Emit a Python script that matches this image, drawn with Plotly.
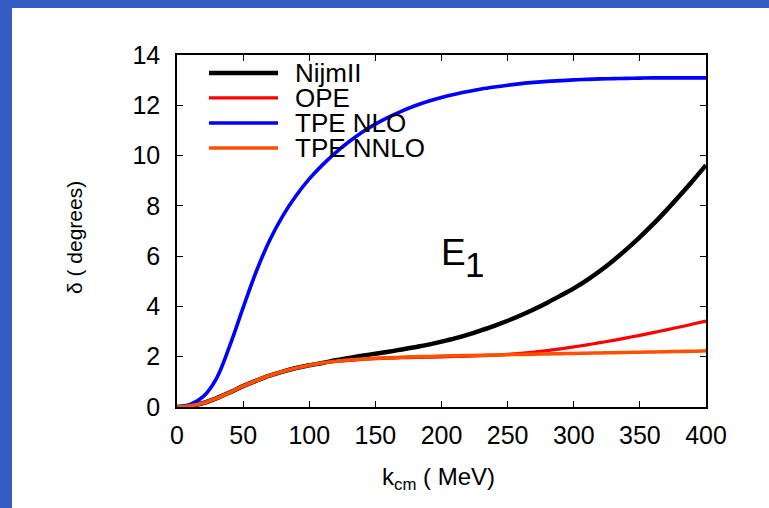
import plotly.graph_objects as go

# E1 mixing parameter vs. centre-of-mass momentum, sampled every 10 MeV
k_mev = list(range(0, 410, 10))

# shared low-momentum behaviour (0-110 MeV)
d_low = [0, 0.05, 0.16, 0.35, 0.58, 0.83, 1.05, 1.25, 1.41, 1.55, 1.66, 1.75]

d_nijm = d_low + [1.86, 1.95, 2.04, 2.12, 2.20, 2.29, 2.38, 2.48, 2.60, 2.73,
                  2.88, 3.05, 3.23, 3.43, 3.65, 3.89, 4.15, 4.43, 4.72, 5.05,
                  5.42, 5.83, 6.28, 6.76, 7.27, 7.82, 8.40, 9.00, 9.62]

d_ope = d_low + [1.81, 1.85, 1.89, 1.92, 1.94, 1.96, 1.97, 1.98, 1.99, 2.01,
                 2.02, 2.04, 2.06, 2.09, 2.13, 2.18, 2.24, 2.31, 2.39, 2.47,
                 2.56, 2.65, 2.75, 2.85, 2.96, 3.07, 3.18, 3.30, 3.42]

d_nlo = [0, 0.10, 0.42, 1.15, 2.45, 3.95, 5.40, 6.62, 7.60, 8.40, 9.07,
         9.63, 10.12, 10.55, 10.93, 11.25, 11.53, 11.77, 11.98, 12.16, 12.31,
         12.44, 12.55, 12.65, 12.73, 12.80, 12.86, 12.91, 12.95, 12.98, 13.01,
         13.03, 13.05, 13.06, 13.07, 13.08, 13.09, 13.09, 13.09, 13.09, 13.09]

d_nnlo = d_low + [1.82, 1.87, 1.91, 1.94, 1.96, 1.98, 2.00, 2.01, 2.03, 2.04,
                  2.05, 2.06, 2.07, 2.08, 2.09, 2.10, 2.11, 2.12, 2.13, 2.14,
                  2.15, 2.16, 2.17, 2.18, 2.19, 2.20, 2.21, 2.22, 2.24]

series_names = ["NijmII", "OPE", "TPE NLO", "TPE NNLO"]
series_d = [d_nijm, d_ope, d_nlo, d_nnlo]
series_colors = ["#000000", "#ff0000", "#0000ff", "#ff5000"]
series_widths = [4.5, 3.2, 3.6, 3.6]

x_ticks = [0, 50, 100, 150, 200, 250, 300, 350, 400]
y_ticks = [0, 2, 4, 6, 8, 10, 12, 14]

FONT = "Liberation Sans, Arial, Helvetica, sans-serif"
BORDER = "#355ec5"

fig = go.Figure()
for name, d, c, w in zip(series_names, series_d, series_colors, series_widths):
    fig.add_trace(go.Scatter(x=k_mev, y=d, mode="lines", name=name,
                             line=dict(color=c, width=w, shape="spline", smoothing=1.0),
                             showlegend=False))

# Hand-drawn key with long line samples
key_y = [0.949, 0.878, 0.807, 0.736]
for name, c, w, ky in zip(series_names, series_colors, series_widths, key_y):
    fig.add_shape(type="line", xref="paper", yref="paper", x0=0.0605, x1=0.191,
                  y0=ky, y1=ky, line=dict(color=c, width=w))
    fig.add_annotation(xref="paper", yref="paper", x=0.219, y=ky, text=name,
                       showarrow=False, xanchor="left", yanchor="middle",
                       font=dict(family=FONT, size=26, color="black"))

# Channel label
fig.add_annotation(x=209, y=6.15, text="E", showarrow=False, xanchor="center",
                   yanchor="middle", font=dict(family=FONT, size=37, color="black"))
fig.add_annotation(x=225, y=5.68, text="1", showarrow=False, xanchor="center",
                   yanchor="middle", font=dict(family=FONT, size=35, color="black"))

# Axis titles
fig.add_annotation(xref="paper", yref="paper", x=0.4934, y=-0.2045,
                   text="k<sub>cm</sub> ( MeV)", showarrow=False,
                   xanchor="center", yanchor="middle",
                   font=dict(family=FONT, size=24, color="black"))
fig.add_annotation(xref="paper", yref="paper", x=-0.1947, y=0.48,
                   text="δ ( degrees)", showarrow=False, textangle=-90,
                   xanchor="center", yanchor="middle",
                   font=dict(family=FONT, size=21, color="black"))

# Slide-style border strips along the left and top edges
fig.add_shape(type="rect", xref="paper", yref="paper", layer="below",
              x0=-177 / 529, x1=-165 / 529, y0=-101 / 352, y1=407 / 352,
              fillcolor=BORDER, line=dict(width=0))
fig.add_shape(type="rect", xref="paper", yref="paper", layer="below",
              x0=-177 / 529, x1=592 / 529, y0=399 / 352, y1=407 / 352,
              fillcolor=BORDER, line=dict(width=0))

axis_common = dict(showline=True, linecolor="black", linewidth=1.5, mirror="ticks",
                   ticks="inside", ticklen=6, tickwidth=1.2, tickcolor="black",
                   showgrid=False, zeroline=False,
                   tickfont=dict(family=FONT, size=25, color="black"))

fig.update_layout(
    width=769, height=508,
    margin=dict(l=177, r=63, t=55, b=101),
    paper_bgcolor="white", plot_bgcolor="white",
    xaxis=dict(range=[0, 400], tickvals=x_ticks, ticktext=[str(v) for v in x_ticks],
               ticklabelstandoff=5, **axis_common),
    yaxis=dict(range=[0, 14], tickvals=y_ticks, ticktext=[str(v) for v in y_ticks],
               ticklabelstandoff=10, **axis_common),
)

fig.write_html("out.html")
